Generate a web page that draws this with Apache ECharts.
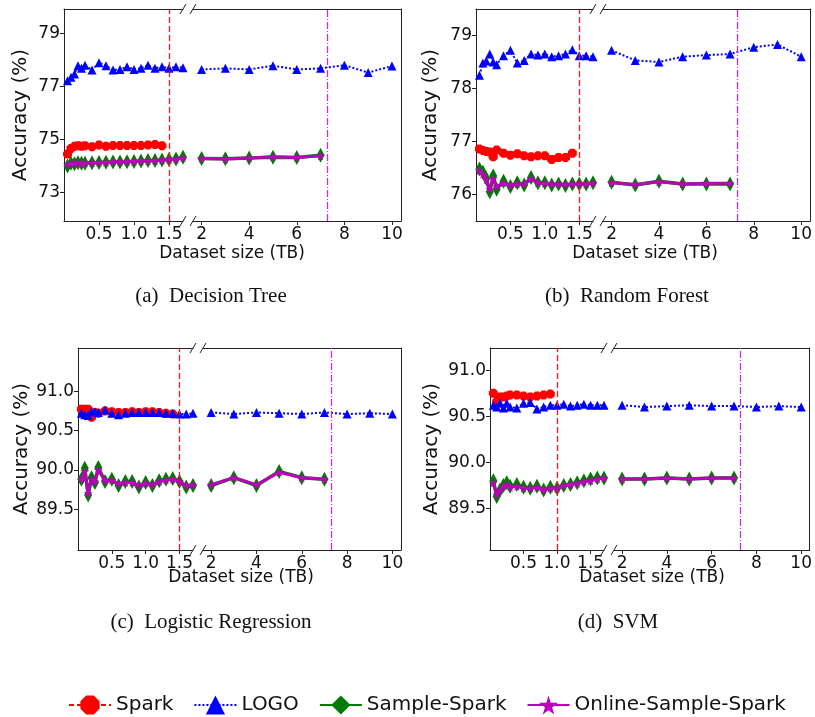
<!DOCTYPE html>
<html>
<head>
<meta charset="utf-8">
<script src="https://cdn.jsdelivr.net/npm/echarts@6/dist/echarts.min.js"></script>
<style>
html,body{margin:0;padding:0;background:#fff;}
#chart{width:815px;height:717px;}
</style>
</head>
<body>
<div id="chart"></div>
<script>
// ---------------- data ----------------
const xLeft = [0.05,0.1,0.15,0.2,0.25,0.3,0.4,0.5,0.6,0.7,0.8,0.9,1.0,1.1,1.2,1.3,1.4,1.5,1.6,1.7];
const xRight = [2,3,4,5,6,7,8,9,10];
const xRightSample = [2,3,4,5,6,7];
const leftTicks = [0.5,1.0,1.5];
const rightTicks = [2,4,6,8,10];
const seriesNames = ['Spark','LOGO','Sample-Spark','Online-Sample-Spark'];
const captions = ['(a)  Decision Tree','(b)  Random Forest','(c)  Logistic Regression','(d)  SVM'];
const redLineX = [1.5,1.5,1.5,1.0];
const purpleLineX = [7.3,7.3,7.3,7.3];

// (a) Decision Tree
const dtYTicks = [73,75,77,79];
const dtSpark = [74.45,74.66,74.74,74.76,74.74,74.76,74.72,74.79,74.74,74.77,74.77,74.77,74.77,74.77,74.79,74.81,74.76];
const dtLogoLeft = [77.21,77.34,77.47,77.78,77.68,77.8,77.62,77.89,77.78,77.62,77.64,77.74,77.64,77.68,77.8,77.68,77.74,77.68,77.74,77.7];
const dtLogoRight = [77.64,77.68,77.64,77.78,77.64,77.68,77.8,77.52,77.77];
const dtSampleLeft = [74.0,74.1,74.08,74.12,74.1,74.1,74.12,74.13,74.14,74.15,74.15,74.16,74.17,74.18,74.2,74.2,74.22,74.24,74.26,74.33];
const dtSampleRight = [74.28,74.27,74.3,74.33,74.32,74.4];
const dtOnlineLeft = [74.05,74.1,74.1,74.12,74.1,74.11,74.12,74.13,74.14,74.15,74.16,74.16,74.17,74.18,74.19,74.2,74.22,74.24,74.25,74.3];
const dtOnlineRight = [74.28,74.26,74.3,74.34,74.32,74.38];

// (b) Random Forest
const rfYTicks = [76,77,78,79];
const rfSpark = [76.86,76.83,76.81,76.8,76.71,76.84,76.78,76.74,76.77,76.73,76.71,76.73,76.73,76.66,76.7,76.7,76.78];
const rfLogoLeft = [78.25,78.48,78.52,78.65,78.5,78.45,78.62,78.72,78.48,78.53,78.65,78.63,78.65,78.6,78.62,78.65,78.73,78.62,78.62,78.6];
const rfLogoRight = [78.72,78.53,78.5,78.6,78.63,78.65,78.78,78.83,78.6];
const rfSampleLeft = [76.48,76.42,76.3,76.05,76.35,76.1,76.25,76.15,76.22,76.18,76.32,76.22,76.22,76.18,76.2,76.17,76.2,76.2,76.2,76.22];
const rfSampleRight = [76.23,76.18,76.25,76.2,76.2,76.2];
const rfOnlineLeft = [76.45,76.38,76.28,76.1,76.3,76.15,76.22,76.17,76.2,76.2,76.3,76.22,76.21,76.2,76.2,76.19,76.2,76.2,76.2,76.21];
const rfOnlineRight = [76.22,76.19,76.24,76.2,76.21,76.21];

// (c) Logistic Regression
const lrYTicks = [89.5,90.0,90.5,91.0];
const lrSpark = [90.77,90.77,90.77,90.67,90.73,90.72,90.75,90.74,90.73,90.73,90.74,90.73,90.74,90.74,90.73,90.72,90.71];
const lrLogoLeft = [90.72,90.7,90.69,90.74,90.74,90.73,90.76,90.72,90.7,90.72,90.73,90.73,90.73,90.73,90.73,90.72,90.72,90.71,90.71,90.72];
const lrLogoRight = [90.73,90.71,90.73,90.72,90.71,90.73,90.71,90.72,90.71];
const lrSampleLeft = [89.88,90.02,89.68,89.9,89.84,90.03,89.85,89.88,89.8,89.85,89.85,89.78,89.84,89.8,89.86,89.88,89.89,89.85,89.78,89.8];
const lrSampleRight = [89.8,89.9,89.8,89.98,89.9,89.88];
const lrOnlineLeft = [89.88,89.98,89.7,89.88,89.85,90.0,89.86,89.87,89.82,89.84,89.84,89.8,89.83,89.81,89.85,89.87,89.88,89.85,89.8,89.81];
const lrOnlineRight = [89.81,89.9,89.81,89.97,89.9,89.88];

// (d) SVM
const svmYTicks = [89.5,90.0,90.5,91.0];
const svmSpark = [90.75,90.66,90.71,90.71,90.72,90.73,90.73,90.72,90.71,90.72,90.73,90.74];
const svmLogoLeft = [90.62,90.6,90.64,90.59,90.64,90.6,90.59,90.64,90.65,90.58,90.6,90.62,90.62,90.63,90.61,90.62,90.63,90.62,90.62,90.62];
const svmLogoRight = [90.62,90.6,90.61,90.62,90.61,90.61,90.6,90.61,90.6];
const svmSampleLeft = [89.8,89.63,89.7,89.75,89.78,89.74,89.76,89.73,89.72,89.74,89.7,89.73,89.72,89.75,89.76,89.78,89.8,89.82,89.83,89.83];
const svmSampleRight = [89.82,89.82,89.83,89.82,89.83,89.83];
const svmOnlineLeft = [89.78,89.65,89.7,89.74,89.76,89.73,89.74,89.72,89.72,89.73,89.7,89.72,89.72,89.75,89.76,89.77,89.79,89.8,89.82,89.83];
const svmOnlineRight = [89.82,89.82,89.83,89.82,89.83,89.83];

// ---------------- layout ----------------
const panels = [
  {top:9,  h:212, L:64,  lw:119, R:193, rw:208, yMin:71.92, yMax:79.92, dec:0, nameGap:33, xNameX:232, xNameY:254, capX:211, capY:296,
   yTicks:dtYTicks, spark:dtSpark, logoL:dtLogoLeft, logoR:dtLogoRight, sampL:dtSampleLeft, sampR:dtSampleRight, onL:dtOnlineLeft, onR:dtOnlineRight},
  {top:9,  h:212, L:476, lw:117, R:603, rw:210, yMin:75.5, yMax:79.5, dec:0, nameGap:35, xNameX:645, xNameY:254, capX:627, capY:296,
   yTicks:rfYTicks, spark:rfSpark, logoL:rfLogoLeft, logoR:rfLogoRight, sampL:rfSampleLeft, sampR:rfSampleRight, onL:rfOnlineLeft, onR:rfOnlineRight},
  {top:348,h:202, L:78,  lw:115, R:203, rw:198, yMin:88.98, yMax:91.55, dec:1, nameGap:46, xNameX:241, xNameY:578, capX:211, capY:622,
   yTicks:lrYTicks, spark:lrSpark, logoL:lrLogoLeft, logoR:lrLogoRight, sampL:lrSampleLeft, sampR:lrSampleRight, onL:lrOnlineLeft, onR:lrOnlineRight},
  {top:348,h:202, L:490, lw:114, R:614, rw:199, yMin:89.05, yMax:91.24, dec:1, nameGap:48, xNameX:652, xNameY:578, capX:618, capY:622,
   yTicks:svmYTicks, spark:svmSpark, logoL:svmLogoLeft, logoR:svmLogoRight, sampL:svmSampleLeft, sampR:svmSampleRight, onL:svmOnlineLeft, onR:svmOnlineRight}
];
const LMIN = 0, LMAX = 1.7, RMIN = 1.64, RMAX = 10.38;
const FONT = 'DejaVu Sans';
const AX = '#222';
const octagon = 'path://M30,0 L70,0 L100,30 L100,70 L70,100 L30,100 L0,70 L0,30 Z';
const star = 'path://M50,0 L61,35 L98,35 L68,57 L79,91 L50,70 L21,91 L32,57 L2,35 L39,35 Z';

const styles = {
  'Spark': {color:'#ff0000', symbol:octagon, symbolSize:9, lineStyle:{color:'#ff0000', width:2, type:[5,3]}},
  'LOGO': {color:'#0000ff', symbol:'triangle', symbolSize:9, lineStyle:{color:'#0000ff', width:2, type:[2,2]}},
  'Sample-Spark': {color:'#007a00', symbol:'diamond', symbolSize:[8,15], lineStyle:{color:'#007a00', width:3.5, type:'solid'}},
  'Online-Sample-Spark': {color:'#bb00bb', symbol:star, symbolSize:9, lineStyle:{color:'#bb00bb', width:3, type:'solid'}}
};

function pairs(xs, ys){ return ys.map((y,i)=>[xs[i], y]); }

const grid=[], xAxis=[], yAxis=[], series=[], graphic=[];

panels.forEach((p,i)=>{
  const gL = grid.length; grid.push({left:p.L, top:p.top, width:p.lw, height:p.h});
  const gR = grid.length; grid.push({left:p.R, top:p.top, width:p.rw, height:p.h});
  const lineAx = {show:true, onZero:false, lineStyle:{color:AX, width:1}};
  const xLb = xAxis.length;
  xAxis.push({type:'value', gridIndex:gL, min:LMIN, max:LMAX, position:'bottom', axisLine:lineAx,
    axisTick:{show:true, length:4, customValues:leftTicks, lineStyle:{color:AX}},
    axisLabel:{show:true, customValues:leftTicks, formatter:v=>v.toFixed(1), fontFamily:FONT, fontSize:17, color:'#111', margin:5},
    splitLine:{show:false}});
  xAxis.push({type:'value', gridIndex:gL, min:LMIN, max:LMAX, position:'top', axisLine:lineAx,
    axisTick:{show:false}, axisLabel:{show:false}, splitLine:{show:false}});
  const xRb = xAxis.length;
  xAxis.push({type:'value', gridIndex:gR, min:RMIN, max:RMAX, position:'bottom', axisLine:lineAx,
    axisTick:{show:true, length:4, customValues:rightTicks, lineStyle:{color:AX}},
    axisLabel:{show:true, customValues:rightTicks, formatter:v=>String(v), fontFamily:FONT, fontSize:17, color:'#111', margin:5},
    splitLine:{show:false}});
  xAxis.push({type:'value', gridIndex:gR, min:RMIN, max:RMAX, position:'top', axisLine:lineAx,
    axisTick:{show:false}, axisLabel:{show:false}, splitLine:{show:false}});
  const yL = yAxis.length;
  yAxis.push({type:'value', gridIndex:gL, min:p.yMin, max:p.yMax, position:'left', axisLine:lineAx,
    axisTick:{show:true, length:4, customValues:p.yTicks, lineStyle:{color:AX}},
    axisLabel:{show:true, customValues:p.yTicks, formatter:v=>v.toFixed(p.dec), fontFamily:FONT, fontSize:17, color:'#111', margin:4},
    splitLine:{show:false},
    name:'Accuracy (%)', nameLocation:'middle', nameGap:p.nameGap, nameRotate:90,
    nameTextStyle:{fontFamily:FONT, fontSize:20, color:'#111'}});
  const yR = yAxis.length;
  yAxis.push({type:'value', gridIndex:gR, min:p.yMin, max:p.yMax, position:'right', axisLine:lineAx,
    axisTick:{show:false}, axisLabel:{show:false}, splitLine:{show:false}});

  const mk = (name, xi, yi, data, extra) => Object.assign({
    type:'line', name:name, xAxisIndex:xi, yAxisIndex:yi, data:data,
    symbol:styles[name].symbol, symbolSize:styles[name].symbolSize,
    itemStyle:{color:styles[name].color}, lineStyle:styles[name].lineStyle,
    showSymbol:true, animation:false, silent:true, clip:false
  }, extra||{});

  series.push(mk('Spark', xLb, yL, pairs(xLeft, p.spark), {z:3,
    markLine:{silent:true, symbol:['none','none'], label:{show:false},
      lineStyle:{color:'rgb(255,20,20)', opacity:1, width:1.3, type:[6,3]}, data:[{xAxis:redLineX[i]}]}}));
  series.push(mk('LOGO', xLb, yL, pairs(xLeft, p.logoL), {z:3}));
  series.push(mk('LOGO', xRb, yR, pairs(xRight, p.logoR), {z:3,
    markLine:{silent:true, symbol:['none','none'], label:{show:false},
      lineStyle:{color:'rgb(195,50,210)', opacity:1, width:1.3, type:[7,2,1,2]}, data:[{xAxis:purpleLineX[i]}]}}));
  series.push(mk('Sample-Spark', xLb, yL, pairs(xLeft, p.sampL), {z:4}));
  series.push(mk('Sample-Spark', xRb, yR, pairs(xRightSample, p.sampR), {z:4}));
  series.push(mk('Online-Sample-Spark', xLb, yL, pairs(xLeft, p.onL), {z:5}));
  series.push(mk('Online-Sample-Spark', xRb, yR, pairs(xRightSample, p.onR), {z:5}));

  // break marks
  const gx1 = p.L + p.lw, gx2 = p.R;
  [p.top, p.top + p.h].forEach(yy=>{
    [gx1, gx2].forEach(xx=>{
      graphic.push({type:'line', silent:true, shape:{x1:xx-3, y1:yy+5, x2:xx+3, y2:yy-5}, style:{stroke:AX, lineWidth:1}});
    });
  });
  graphic.push({type:'text', silent:true, x:p.xNameX, y:p.xNameY,
    style:{text:'Dataset size (TB)', font:'17px "DejaVu Sans"', fill:'#111', align:'center', verticalAlign:'middle'}});
  graphic.push({type:'text', silent:true, x:p.capX, y:p.capY,
    style:{text:captions[i], font:'21px "Liberation Serif", serif', fill:'#111', align:'center', verticalAlign:'middle'}});
});

const chart = echarts.init(document.getElementById('chart'), null, {renderer:'canvas'});
chart.setOption({
  animation:false,
  backgroundColor:'#fff',
  grid, xAxis, yAxis, series, graphic,
  legend:{
    data:seriesNames,
    left:63, top:690, itemWidth:42, itemHeight:24, itemGap:20,
    textStyle:{fontFamily:FONT, fontSize:20, color:'#111'}, selectedMode:false}
});
</script>
</body>
</html>
